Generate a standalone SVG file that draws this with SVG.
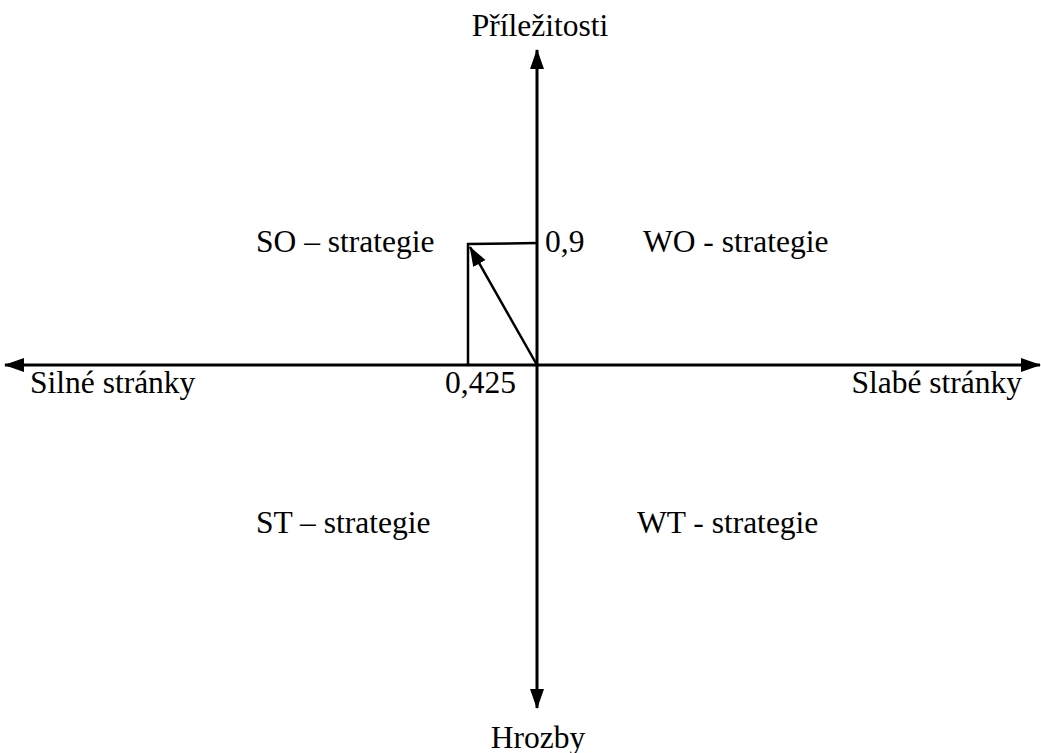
<svg xmlns="http://www.w3.org/2000/svg" width="1041" height="753" viewBox="0 0 1041 753">
<style>
text{font-family:"Liberation Serif","Times New Roman",serif;font-size:31.5px;fill:#000}
.ax{stroke:#000;stroke-width:3;fill:none}
.ln{stroke:#000;stroke-width:2.5;fill:none}
</style>
<defs>
<marker id="ah2" markerWidth="20" markerHeight="20" refX="19" refY="10" orient="auto" markerUnits="userSpaceOnUse" viewBox="0 0 20 20">
<path d="M0,3 L20,10 L0,17 Z" fill="#000"/>
</marker>
</defs>
<g id="connectors">
<line class="ax" x1="537" y1="365" x2="537" y2="50" marker-end="url(#ah2)"/>
<line class="ax" x1="537" y1="365" x2="537" y2="708" marker-end="url(#ah2)"/>
<line class="ax" x1="537" y1="365" x2="5" y2="365" marker-end="url(#ah2)"/>
<line class="ax" x1="537" y1="365" x2="1040" y2="365" marker-end="url(#ah2)"/>
<line class="ln" x1="468" y1="365" x2="468" y2="243"/>
<line class="ln" x1="467" y1="244" x2="537" y2="243"/>
<line class="ln" x1="537" y1="365" x2="470" y2="247" marker-end="url(#ah2)"/>
</g>
<g id="label-prilezitosti"><text x="540" y="36" text-anchor="middle">Příležitosti</text></g>
<g id="label-hrozby"><text x="538" y="748" text-anchor="middle">Hrozby</text></g>
<g id="label-silne"><text x="30" y="393">Silné stránky</text></g>
<g id="label-slabe"><text x="1022" y="393" text-anchor="end">Slabé stránky</text></g>
<g id="label-0425"><text x="445" y="393">0,425</text></g>
<g id="label-09"><text x="545" y="252">0,9</text></g>
<g id="label-so"><text x="256" y="252">SO – strategie</text></g>
<g id="label-wo"><text x="643" y="252">WO - strategie</text></g>
<g id="label-st"><text x="256" y="533">ST – strategie</text></g>
<g id="label-wt"><text x="637" y="533">WT - strategie</text></g>
</svg>
